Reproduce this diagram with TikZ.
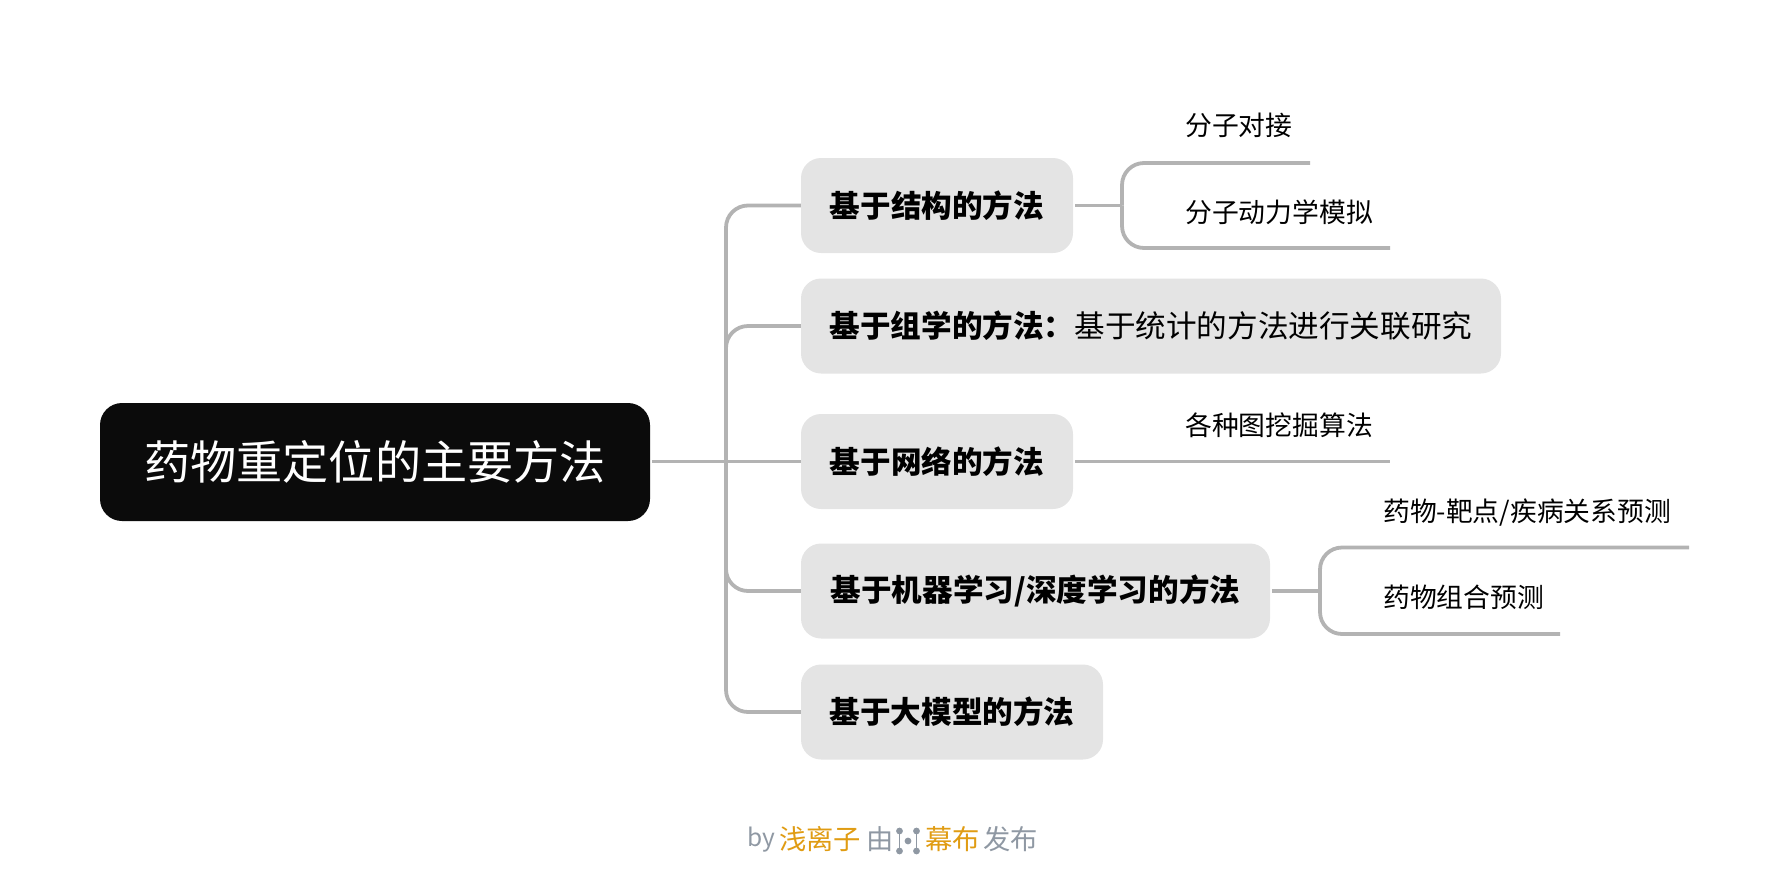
\documentclass[tikz,border=0pt]{standalone}
\usepackage{fontspec}
\setmainfont{Noto Sans CJK SC}
\definecolor{rootfill}{HTML}{0B0B0B}
\definecolor{boxfill}{HTML}{E4E4E4}
\definecolor{linecol}{HTML}{B3B3B3}
\definecolor{footgrey}{HTML}{8F98A3}
\definecolor{footorange}{HTML}{E09C13}
\newcommand{\liftby}[2]{\raisebox{#1}{#2}}
\tikzset{
  rootbox/.style={fill=rootfill,text=white,rounded corners=22pt,minimum width=550pt,minimum height=118pt,inner sep=0pt,font=\fontsize{46.1pt}{50pt}\selectfont},
  topicbox/.style={fill=boxfill,text=black,rounded corners=20pt,minimum height=95pt,inner sep=0pt,font=\fontsize{30.6pt}{34pt}\selectfont},
  subtext/.style={anchor=west,inner sep=0pt,text=black,font=\fontsize{26.8pt}{30pt}\selectfont},
  conn/.style={draw=linecol,line width=3.8pt,rounded corners=22pt},
  foot/.style={anchor=west,inner sep=0pt,font=\fontsize{27.3pt}{30pt}\selectfont},
}
\begin{document}
\begin{tikzpicture}[x=1pt,y=-1pt]
\useasboundingbox (0,0) rectangle (1784,887);
\node[rootbox] (root) at (375,462) {\liftby{2pt}{药物重定位的主要方法}};
\node[topicbox,minimum width=272pt] (b1) at (937,205.5) {\liftby{1pt}{\textbf{基于结构的方法}}};
\node[topicbox,minimum width=700pt] (b2) at (1151,326) {\liftby{1pt}{\textbf{基于组学的方法：}基于统计的方法进行关联研究}};
\node[topicbox,minimum width=272pt] (b3) at (937,461.5) {\liftby{1pt}{\textbf{基于网络的方法}}};
\node[topicbox,minimum width=469pt] (b4) at (1035.5,591) {\liftby{1pt}{\textbf{基于机器学习/深度学习的方法}}};
\node[topicbox,minimum width=302pt] (b5) at (952,712) {\liftby{1pt}{\textbf{基于大模型的方法}}};
\coordinate (trunk) at (726,461.5);
\draw[conn,shorten <=2pt] (root.east |- trunk) -- (b3.west);
\draw[conn] (trunk) |- (b1.west);
\draw[conn] (trunk) |- (b2.west);
\draw[conn] (trunk) |- (b4.west);
\draw[conn] (trunk) |- (b5.west);
\node[subtext] (s1) at (1185,125) {分子对接};
\node[subtext] (s2) at (1185,212) {分子动力学模拟};
\node[subtext] (s3) at (1185,425) {各种图挖掘算法};
\node[subtext] (s4) at (1383,512.5) {药物-靶点/疾病关系预测};
\node[subtext] (s5) at (1383,597) {药物组合预测};
\coordinate (j1) at (1122,205.5);
\coordinate (e1) at (1310,163);
\coordinate (e2) at (1390,248);
\coordinate (e3) at (1390,461.5);
\coordinate (j4) at (1320,591);
\coordinate (e4) at (1689,547.5);
\coordinate (e5) at (1560,634);
\draw[conn,shorten <=2pt] (b1.east) -- (j1);
\draw[conn] (j1) |- (e1);
\draw[conn] (j1) |- (e2);
\draw[conn,shorten <=2pt] (b3.east) -- (e3);
\draw[conn,shorten <=2pt] (b4.east) -- (j4);
\draw[conn] (j4) |- (e4);
\draw[conn] (j4) |- (e5);
\node[foot,text=footgrey,font=\fontsize{24.5pt}{28pt}\selectfont] (f1) at (747,840) {by};
\node[foot,text=footorange] (f2) at (779,839) {浅离子};
\node[foot,text=footgrey] (f3) at (866,839) {由};
\node[foot,text=footorange] (f4) at (925,839) {幕布};
\node[foot,text=footgrey] (f5) at (983,839) {发布};
\fill[footgrey] (899.5,831) circle (3.4pt) (899.5,851) circle (3.4pt) (916.5,831) circle (3.4pt) (916.5,851) circle (3.4pt) (908,841) circle (3.4pt);
\draw[footgrey,line width=1.8pt] (899.5,831) -- (899.5,851) (916.5,831) -- (916.5,851);
\end{tikzpicture}
\end{document}
